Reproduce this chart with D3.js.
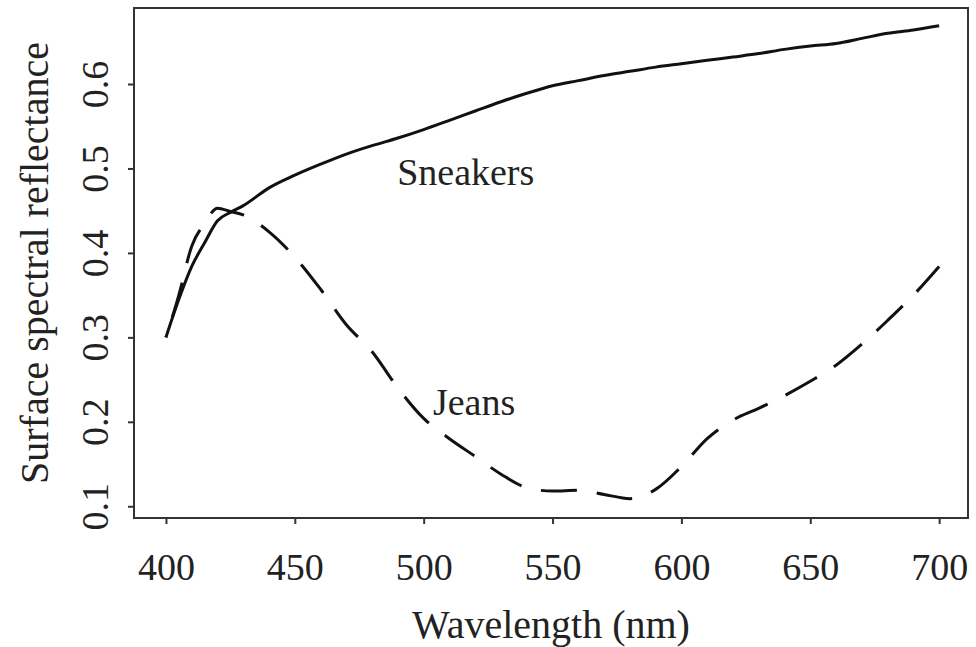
<!DOCTYPE html>
<html>
<head>
<meta charset="utf-8">
<script src="https://cdn.jsdelivr.net/npm/d3@7"></script>
<style>
  html, body { margin: 0; padding: 0; background: #fff; }
  text { font-family: "Liberation Serif", "Times New Roman", serif; fill: #222; }
</style>
</head>
<body>
<svg id="chart" width="976" height="647"></svg>
<script>
// ---- data ----
const wavelengths = [400, 405, 410, 415, 420, 425, 430, 440, 450, 460, 470, 480, 490, 500, 510, 520, 530, 540, 550, 560, 570, 580, 590, 600, 610, 620, 630, 640, 650, 660, 670, 680, 690, 700];
const sneakers = [0.300, 0.345, 0.384, 0.412, 0.438, 0.448, 0.456, 0.477, 0.492, 0.505, 0.517, 0.527, 0.536, 0.546, 0.557, 0.568, 0.579, 0.589, 0.598, 0.604, 0.610, 0.615, 0.620, 0.624, 0.628, 0.632, 0.636, 0.641, 0.645, 0.648, 0.654, 0.660, 0.664, 0.669];
const jeans = [0.300, 0.350, 0.408, 0.435, 0.453, 0.449, 0.445, 0.425, 0.395, 0.357, 0.315, 0.283, 0.240, 0.204, 0.180, 0.159, 0.138, 0.122, 0.118, 0.119, 0.114, 0.109, 0.120, 0.147, 0.180, 0.202, 0.216, 0.231, 0.248, 0.267, 0.292, 0.320, 0.350, 0.384];
const xTicks = [400, 450, 500, 550, 600, 650, 700];
const yTicks = [0.1, 0.2, 0.3, 0.4, 0.5, 0.6];
const seriesLabels = [
  { name: "Sneakers", wl: 489.7, v: 0.480 },
  { name: "Jeans", wl: 503.6, v: 0.208 }
];
const xTitle = "Wavelength (nm)";
const yTitle = "Surface spectral reflectance";

// ---- layout ----
const L = 134, R = 968, T = 8, B = 518;
const svg = d3.select("#chart");

const x = d3.scaleLinear().domain([387.6, 711.2]).range([L, R]);
const y = d3.scaleLinear().domain([0.0861, 0.690]).range([B, T]);

// frame
svg.append("rect")
  .attr("x", L).attr("y", T).attr("width", R - L).attr("height", B - T)
  .attr("fill", "none").attr("stroke", "#333").attr("stroke-width", 2);

// x axis ticks
const xAxis = d3.axisBottom(x).tickValues(xTicks).tickSize(6).tickFormat(d3.format("d")).tickPadding(10);
const gx = svg.append("g").attr("transform", `translate(0,${B})`).call(xAxis);
gx.select(".domain").remove();
gx.selectAll(".tick line").attr("stroke", "#333").attr("stroke-width", 2);
gx.selectAll(".tick text")
  .attr("font-size", 38).attr("fill", "#222")
  .attr("font-family", "Liberation Serif")
  .attr("dy", null).attr("y", 62);

// y axis ticks
const yAxis = d3.axisLeft(y).tickValues(yTicks).tickSize(6).tickFormat(d3.format(".1f"));
const gy = svg.append("g").attr("transform", `translate(${L},0)`).call(yAxis);
gy.select(".domain").remove();
gy.selectAll(".tick line").attr("stroke", "#333").attr("stroke-width", 2);
gy.selectAll(".tick text")
  .attr("x", null).attr("dy", null)
  .attr("font-size", 38).attr("fill", "#222")
  .attr("font-family", "Liberation Serif")
  .attr("text-anchor", "middle")
  .attr("transform", `translate(${108 - L},0) rotate(-90)`);

// lines
const line = d3.line().x(d => x(d[0])).y(d => y(d[1])).curve(d3.curveMonotoneX);
svg.append("path")
  .datum(wavelengths.map((w, i) => [w, sneakers[i]]))
  .attr("d", line).attr("fill", "none")
  .attr("stroke", "#111").attr("stroke-width", 3).attr("stroke-linejoin", "round");
const jp = svg.append("path")
  .datum(wavelengths.map((w, i) => [w, jeans[i]]))
  .attr("d", line).attr("fill", "none")
  .attr("stroke", "#111").attr("stroke-width", 3)
  .attr("stroke-dasharray", "36,20");
const len = jp.node().getTotalLength();
jp.attr("stroke-dashoffset", ((34 - len) % 56 + 56) % 56);

// series labels
svg.selectAll("text.series").data(seriesLabels).enter().append("text")
  .attr("class", "series")
  .attr("x", d => x(d.wl)).attr("y", d => y(d.v))
  .attr("font-size", 38)
  .text(d => d.name);

// axis titles
svg.append("text")
  .attr("x", (L + R) / 2).attr("y", 638)
  .attr("text-anchor", "middle").attr("font-size", 40)
  .text(xTitle);
svg.append("text")
  .attr("transform", `translate(48,${(T + B) / 2}) rotate(-90)`)
  .attr("text-anchor", "middle").attr("font-size", 40)
  .text(yTitle);
</script>
</body>
</html>
